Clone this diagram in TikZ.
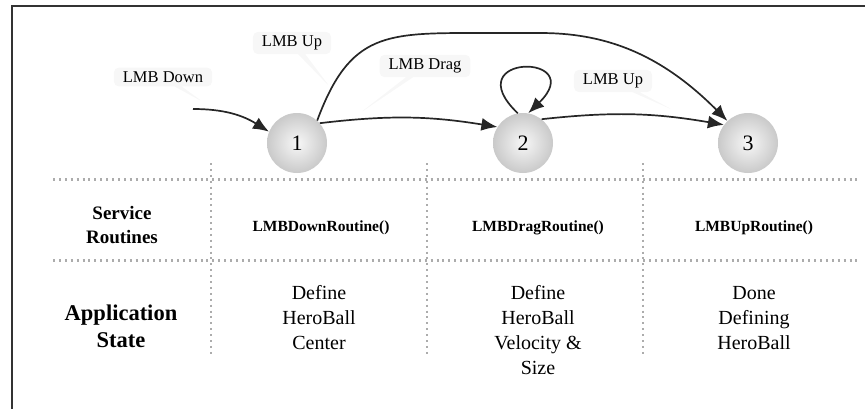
\documentclass[tikz,border=0pt]{standalone}
\usepackage{fontspec}
\setmainfont{Liberation Serif}
\newfontfamily\timesfam{Liberation Serif}
\usepackage{tikz}
\usetikzlibrary{arrows.meta,shapes.callouts}

\begin{document}
\begin{tikzpicture}[
    x=1pt, y=1pt,
    % Ball shaped states
    stnode/.style = {circle, minimum size=60pt, inner sep=0pt, draw=none,
                     inner color=gray!6, outer color=gray!42,
                     font=\timesfam\fontsize{22}{22}\selectfont},
    % Faint callout labels on the transitions
    lab/.style    = {rectangle callout, rounded corners=5pt, fill=black!3, draw=none,
                     inner xsep=9pt, inner ysep=4pt, font=\timesfam\fontsize{16.5}{18}\selectfont},
    % Transitions
    edgec/.style  = {-{Latex[length=16pt,width=13pt]}, line width=1.7pt, draw=black!85},
    sep/.style    = {draw=gray!65, line width=2.1pt, dash pattern=on 2pt off 3.9pt},
    hdr/.style    = {align=center, font=\timesfam\bfseries\fontsize{19}{24}\selectfont},
    rtn/.style    = {align=center, font=\timesfam\bfseries\fontsize{15.5}{18}\selectfont},
    txt/.style    = {align=center, font=\timesfam\fontsize{20}{25}\selectfont}
  ]
  \useasboundingbox (0,0) rectangle (865,408);

  % ===== Frame =====
  \draw[line width=2pt, black!80] (12,-2) -- (12,401.5) -- (867,401.5);

  % ===== Table =====
  \draw[sep] (53,228.5) -- (860,228.5);
  \draw[sep] (53,147.5) -- (860,147.5);
  \foreach \x in {211,427,643}{
    \draw[sep] (\x,245) -- (\x,51);
  }

  \node[hdr] (svc) at (122,183) {Service\\Routines};
  \node[hdr, font=\timesfam\bfseries\fontsize{22.5}{27}\selectfont] (app) at (121,82) {Application\\State};

  \node[rtn] (rDown) at (321,180) {LMBDownRoutine()};
  \node[rtn] (rDrag) at (538,180) {LMBDragRoutine()};
  \node[rtn] (rUp)   at (754,180) {LMBUpRoutine()};

  \node[txt] (stDown) at (319,90)   {Define\\HeroBall\\Center};
  \node[txt] (stDrag) at (538,77.5) {Define\\HeroBall\\Velocity \&\\Size};
  \node[txt] (stUp)   at (754,90)   {Done\\Defining\\HeroBall};

  % ===== Labels =====
  \node[lab, callout absolute pointer={(203,306)}] (lDown) at (163,331) {LMB Down};
  \node[lab, callout absolute pointer={(330,321)}] (lUpA)  at (292,365) {LMB Up};
  \node[lab, callout absolute pointer={(360,295)}] (lDrag) at (425,342) {LMB Drag};
  \node[lab, callout absolute pointer={(673,298)}] (lUpB)  at (613,327) {LMB Up};

  % ===== States =====
  \node[stnode] (n1) at (297,265) {1};
  \node[stnode] (n2) at (523,265) {2};
  \node[stnode] (n3) at (748,265) {3};

  % ===== Transitions =====
  \coordinate (in) at (193,299);
  \draw[edgec] (in) to[out=0, in=148] (n1.158);
  \draw[edgec] (n1.41) to[bend left=8] (n2.148);
  \draw[edgec] (n2.52) to[bend left=8] (n3.143);
  \draw[edgec] (n2.100) .. controls (455,355) and (590,355) .. (n2.80);
  \draw[edgec] (n1.48) .. controls (350,376) and (386,375) .. (480,375)
    -- (540,375) .. controls (600,375) and (657,358) .. (n3.133);

\end{tikzpicture}
\end{document}
